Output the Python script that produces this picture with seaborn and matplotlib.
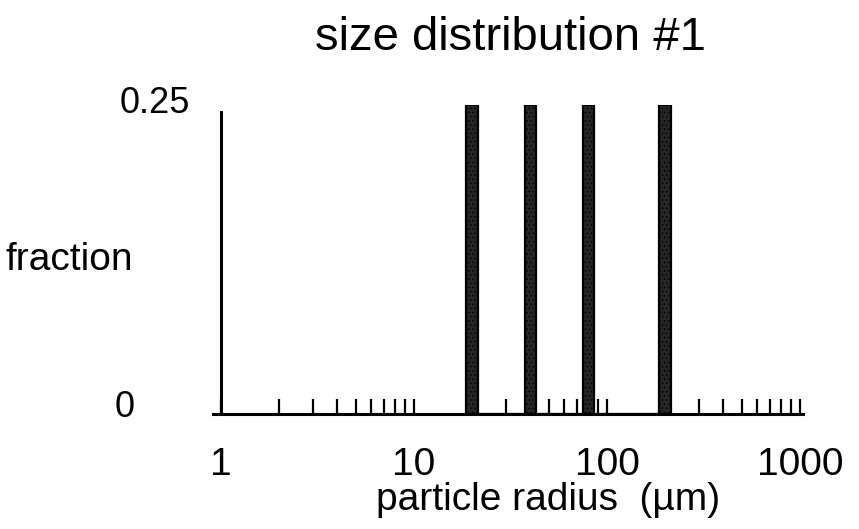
import numpy as np
import pandas as pd
import matplotlib
matplotlib.use("Agg")
import matplotlib.pyplot as plt
import matplotlib.ticker as mticker
import seaborn as sns

# ---- data ----
radius_um = [20, 40, 80, 200]
fraction = [0.25, 0.25, 0.25, 0.25]
x_ticks = [1, 10, 100, 1000]
x_tick_labels = ["1", "10", "100", "1000"]
y_tick_labels = ["0", "0.25"]
title = "size distribution #1"
xlabel = "particle radius  (\u00b5m)"
ylabel = "fraction"

sns.set_theme(style="white")
plt.rcParams["font.family"] = ["Liberation Sans", "DejaVu Sans"]
plt.rcParams["text.color"] = "black"
plt.rcParams["axes.labelcolor"] = "black"
plt.rcParams["xtick.color"] = "black"
plt.rcParams["hatch.color"] = "#888888"
plt.rcParams["hatch.linewidth"] = 0.6

df = pd.DataFrame({"radius": radius_um, "fraction": fraction})

fig = plt.figure(figsize=(8.59, 5.29), dpi=100)
W, H = 859, 529
ax_left, ax_right, ax_bottom, ax_top = 213, 803, 414, 105
ax = fig.add_axes([ax_left / W, 1 - ax_bottom / H,
                   (ax_right - ax_left) / W, (ax_bottom - ax_top) / H])

# bin edges (log10 space) narrow around each radius
half = 0.029
logs = np.log10(df["radius"].to_numpy())
edges = sorted(np.concatenate([logs - half, logs + half]).tolist())
sns.histplot(data=df, x="radius", weights="fraction", bins=edges, log_scale=True,
             stat="count", color="#262626", edgecolor="#000000", linewidth=1.6,
             alpha=1, ax=ax)
for p in ax.patches:
    p.set_hatch("....")

ax.set_xlim(0.909, 1037)
ax.set_ylim(0, 0.25)

for s in ["top", "right"]:
    ax.spines[s].set_visible(False)
ax.spines["left"].set_position(("data", 1))
ax.spines["left"].set_bounds(0, 0.25 * (ax_bottom - 112) / (ax_bottom - ax_top))
for s in ["left", "bottom"]:
    ax.spines[s].set_color("black")
    ax.spines[s].set_linewidth(2.2)

ax.xaxis.set_major_locator(mticker.FixedLocator(x_ticks))
ax.xaxis.set_major_formatter(mticker.FixedFormatter(x_tick_labels))
ax.xaxis.set_minor_locator(mticker.LogLocator(base=10, subs=np.arange(2, 10), numticks=20))
ax.xaxis.set_minor_formatter(mticker.NullFormatter())
ax.tick_params(axis="x", which="both", direction="in", length=11, width=1.6,
               color="black", bottom=True)
ax.tick_params(axis="x", which="major", labelsize=28, pad=24, labelcolor="black")

ax.set_yticks([])
ax.set_ylabel("")
ax.set_xlabel(xlabel, fontsize=28, color="black")
ax.xaxis.label.set_va("baseline")
ax.xaxis.set_label_coords((548 - ax_left) / (ax_right - ax_left),
                          (ax_bottom - 510) / (ax_bottom - ax_top))

fig.text(190 / W, 1 - 113 / H, y_tick_labels[1], ha="right", va="baseline", fontsize=26)
fig.text(135 / W, 1 - 417 / H, y_tick_labels[0], ha="right", va="baseline", fontsize=26)
fig.text(5 / W, 1 - 270 / H, ylabel, ha="left", va="baseline", fontsize=28)
fig.text(510 / W, 1 - 50 / H, title, ha="center", va="baseline", fontsize=34)

fig.savefig("out.png", dpi=100)
